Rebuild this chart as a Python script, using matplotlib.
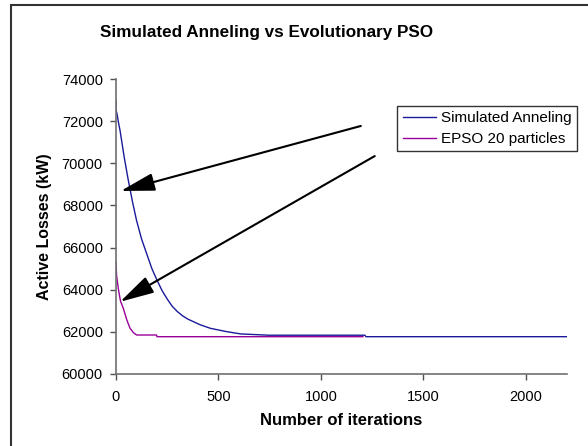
import matplotlib
matplotlib.use("Agg")
import matplotlib.pyplot as plt
from matplotlib.patches import Rectangle

plt.rcParams['font.family'] = ['Liberation Sans', 'DejaVu Sans']

# Simulated Anneling curve (iteration, active losses kW)
sa_iter = [0, 0, 5, 11, 20, 40, 60, 80, 100, 125, 150, 175, 200, 225, 250, 275, 300,
           325, 350, 410, 460, 540, 610, 680, 745, 1215, 1220, 2200]
sa_loss = [73000, 72550, 72350, 72000, 71550, 70300, 69200, 68200, 67300, 66400,
           65700, 65000, 64450, 63950, 63550, 63200, 62950, 62750, 62600, 62330,
           62160, 62000, 61890, 61860, 61830, 61830, 61760, 61760]

# EPSO 20 particles curve
epso_iter = [0, 3, 12, 22, 36, 52, 68, 85, 101, 198, 200, 1205]
epso_loss = [65300, 64650, 64000, 63450, 63100, 62580, 62170, 61950, 61840, 61840,
             61760, 61760]

series_labels = ['Simulated Anneling', 'EPSO 20 particles']
x_ticks = [0, 500, 1000, 1500, 2000]
y_ticks = [60000, 62000, 64000, 66000, 68000, 70000, 72000, 74000]

# arrows: (tail, tip) in data coordinates
arrow_tails = [(1195, 71780), (1263, 70350)]
arrow_tips = [(23, 68690), (20, 63420)]

W, H = 588, 446
fig = plt.figure(figsize=(W / 100, H / 100), dpi=100)
ax = fig.add_axes([116 / W, 1 - 373.7 / H, (566.7 - 116) / W, (373.7 - 79.3) / H])

ax.plot(sa_iter, sa_loss, color='#1a1a9a', lw=1.0, label=series_labels[0])
ax.plot(epso_iter, epso_loss, color='#990099', lw=1.0, label=series_labels[1])

for tail, tip in zip(arrow_tails, arrow_tips):
    ax.annotate('', xy=tip, xytext=tail,
                arrowprops=dict(arrowstyle='-|>,head_length=2.1,head_width=0.55',
                                color='black', lw=1.5, shrinkA=0, shrinkB=0,
                                mutation_scale=10))

ax.set_xlim(0, 2200)
ax.set_ylim(60000, 74000)
ax.set_xticks(x_ticks)
ax.set_yticks(y_ticks)
ax.tick_params(axis='both', direction='out', length=4.5, width=1, color='#505050',
               labelsize=10.5, pad=5)
ax.tick_params(axis='x', pad=7)
for side in ['top', 'right']:
    ax.spines[side].set_visible(False)
for side in ['left', 'bottom']:
    ax.spines[side].set_color('#707070')
    ax.spines[side].set_linewidth(1.2)

ax.set_xlabel('Number of iterations', fontsize=12, fontweight='bold', labelpad=7)
ax.set_ylabel('Active Losses (kW)', fontsize=11.5, fontweight='bold', labelpad=7)

fig.text(267 / W, 1 - 32 / H, 'Simulated Anneling vs Evolutionary PSO',
         ha='center', va='center', fontsize=12.3, fontweight='bold')

leg = ax.legend(loc='upper left', bbox_to_anchor=(397.3 / W, 1 - 105.7 / H),
                bbox_transform=fig.transFigure, borderaxespad=0, fontsize=11,
                fancybox=False, frameon=True, handlelength=2.2, handletextpad=0.3,
                labelspacing=0.45, borderpad=0.35)
leg.get_frame().set_edgecolor('black')
leg.get_frame().set_linewidth(1.0)

# outer chart frame (cropped on right and bottom)
fig.patches.append(Rectangle((11 / W, -0.05), 1.2, 1 - 5 / H + 0.05,
                             transform=fig.transFigure, fill=False,
                             edgecolor='#333333', lw=1.5))

fig.savefig('out.png', dpi=100)
